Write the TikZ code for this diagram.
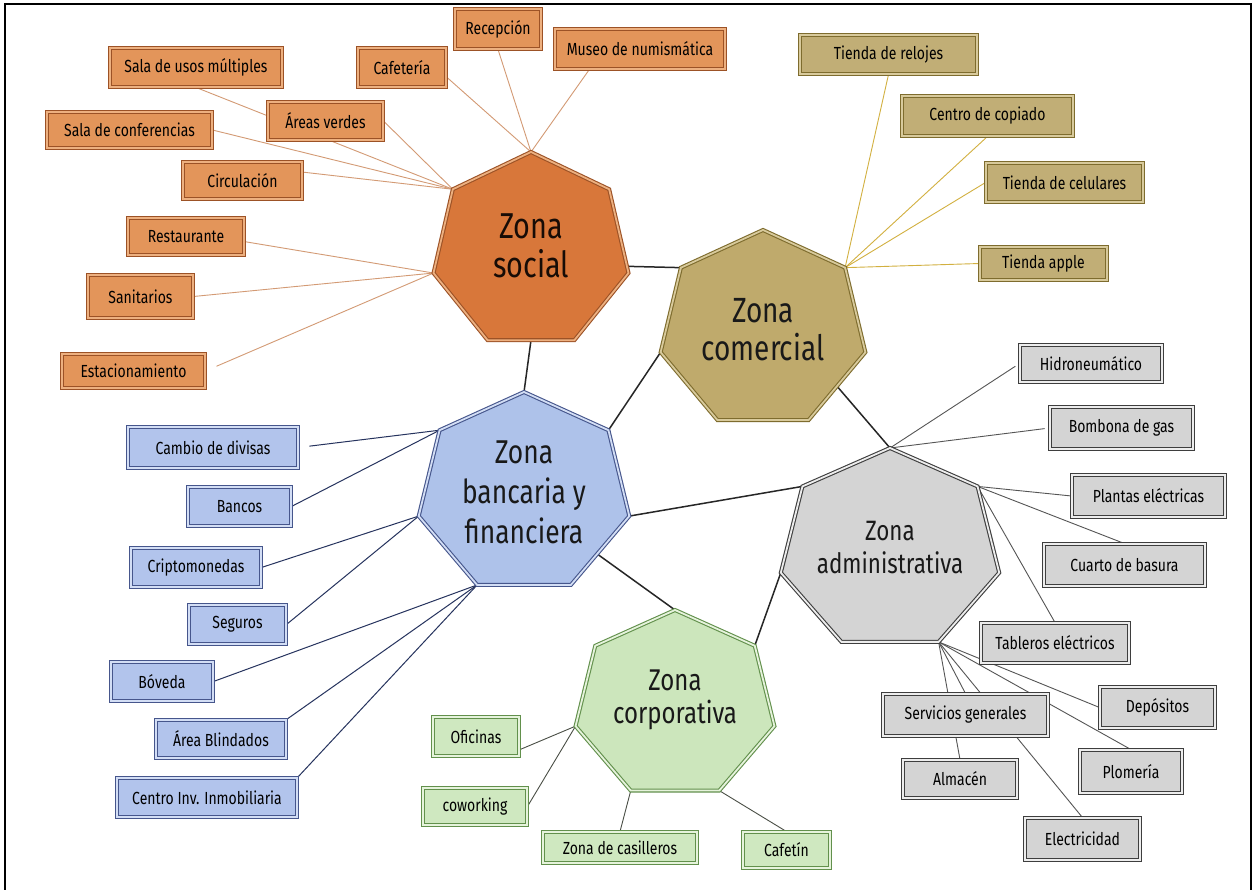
\documentclass[tikz,border=0pt]{standalone}
\usepackage{fontspec}
\setmainfont{Fira Sans}[FakeStretch=0.8]
\usetikzlibrary{calc}
\pgfdeclarelayer{bg}
\pgfsetlayers{bg,main}
\definecolor{sF}{HTML}{E3955A}\definecolor{sH}{HTML}{D8773A}\definecolor{sD}{HTML}{9C5226}\definecolor{sL}{HTML}{EDB080}\definecolor{sLine}{HTML}{D39A74}
\definecolor{cF}{HTML}{C1AE76}\definecolor{cH}{HTML}{BFAA6C}\definecolor{cD}{HTML}{7E6C2E}\definecolor{cL}{HTML}{D8CA9C}\definecolor{cLine}{HTML}{D2B040}
\definecolor{bF}{HTML}{B2C4EC}\definecolor{bH}{HTML}{AEC2EA}\definecolor{bD}{HTML}{46568C}\definecolor{bL}{HTML}{D3DEF5}\definecolor{bLine}{HTML}{26335E}
\definecolor{aF}{HTML}{D4D4D4}\definecolor{aH}{HTML}{D4D4D4}\definecolor{aD}{HTML}{3E3E3E}\definecolor{aL}{HTML}{EDEDED}\definecolor{aLine}{HTML}{555555}
\definecolor{kF}{HTML}{CFE8C0}\definecolor{kH}{HTML}{CCE6BC}\definecolor{kD}{HTML}{62904C}\definecolor{kL}{HTML}{E6F3DC}\definecolor{kLine}{HTML}{4A4F46}
\tikzset{
  leafbase/.style={rectangle, inner sep=0pt, line width=0.9pt, double distance=1.4pt, font=\fontsize{17.5}{19}\selectfont, text=black},
  sbox/.style={leafbase, draw=sD, double=sL, fill=sF},
  cbox/.style={leafbase, draw=cD, double=cL, fill=cF},
  bbox/.style={leafbase, draw=bD, double=bL, fill=bF},
  abox/.style={leafbase, draw=aD, double=aL, fill=aF},
  kbox/.style={leafbase, draw=kD, double=kL, fill=kF},
  hept/.style n args={3}{draw=#1, double=#2, fill=#3, line width=1.1pt, double distance=1.8pt, line join=miter},
  zlabel/.style={align=center, inner sep=0pt, text=black!90},
  sln/.style={draw=sLine, line width=0.9pt},
  cln/.style={draw=cLine, line width=0.9pt},
  bln/.style={draw=bLine, line width=1pt},
  aln/.style={draw=aLine, line width=0.9pt},
  kln/.style={draw=kLine, line width=0.9pt},
  main/.style={draw=black!85, line width=1.5pt},
}
\newcommand{\myhept}[6]{%
  \foreach \i in {1,...,7}{%
    \coordinate (#1-\i) at ({#2+#4*cos(90-(\i-1)*360/7)},{#3-#5*sin(90-(\i-1)*360/7)});
  }
  \path[#6] (#1-1)--(#1-2)--(#1-3)--(#1-4)--(#1-5)--(#1-6)--(#1-7)--cycle;
}
\begin{document}
\begin{tikzpicture}[x=1pt,y=-1pt]
\useasboundingbox (0,0) rectangle (1255,890);
\begin{pgfonlayer}{bg}
\fill[white] (0,0) rectangle (1255,890);
\end{pgfonlayer}
\draw[line width=1.6pt, black] (5,892) -- (5,4) -- (1251,4) -- (1251,892);

% heptagons
\myhept{S}{531}{251}{100}{99}{hept={sD}{sL}{sH}}
\myhept{C}{763}{330}{105}{100}{hept={cD}{cL}{cH}}
\myhept{B}{524}{493.5}{108}{101.5}{hept={bD}{bL}{bH}}
\myhept{A}{890}{550}{112}{102}{hept={aD}{aL}{aH}}
\myhept{K}{675}{705}{102}{95}{hept={kD}{kL}{kH}}
\coordinate (Sr) at ($(S-2)!0.92!(S-3)$);

\node[zlabel, font=\fontsize{36}{39}\selectfont, text={black!85!sD}] (St) at (531,246) {Zona\\social};
\node[zlabel, font=\fontsize{35}{38}\selectfont] (Ct) at (763,330) {Zona\\comercial};
\node[zlabel, font=\fontsize{33}{40}\selectfont] (Bt) at (524,492) {Zona\\bancaria y\\financiera};
\node[zlabel, font=\fontsize{28}{33}\selectfont] (At) at (890,548) {Zona\\administrativa};
\node[zlabel, font=\fontsize{30}{33}\selectfont] (Kt) at (675,700) {Zona\\corporativa};

% social boxes
\node[sbox, minimum width=172pt, minimum height=39pt] (smu) at (196,67.5) {Sala de usos múltiples};
\node[sbox, minimum width=115pt, minimum height=38pt] (ave) at (325.5,121) {Áreas verdes};
\node[sbox, minimum width=165pt, minimum height=36pt] (sco) at (129.5,130) {Sala de conferencias};
\node[sbox, minimum width=119pt, minimum height=37pt] (cir) at (242.5,180.5) {Circulación};
\node[sbox, minimum width=116pt, minimum height=37pt] (res) at (186,236.5) {Restaurante};
\node[sbox, minimum width=105pt, minimum height=43pt] (san) at (140.5,296.5) {Sanitarios};
\node[sbox, minimum width=143pt, minimum height=34pt] (est) at (133.5,371) {Estacionamiento};
\node[sbox, minimum width=88pt, minimum height=39pt] (caf) at (402,67.5) {Cafetería};
\node[sbox, minimum width=86pt, minimum height=40pt] (rec) at (498,29) {Recepción};
\node[sbox, minimum width=170pt, minimum height=40pt] (mus) at (640,49) {Museo de numismática};

% comercial boxes
\node[cbox, minimum width=177pt, minimum height=39pt] (trl) at (888.5,54.5) {Tienda de relojes};
\node[cbox, minimum width=171pt, minimum height=40pt] (ccp) at (987.5,116) {Centro de copiado};
\node[cbox, minimum width=157pt, minimum height=39pt] (tcl) at (1064.5,182.5) {Tienda de celulares};
\node[cbox, minimum width=127pt, minimum height=33pt] (tap) at (1043.5,263.5) {Tienda apple};

% bancaria boxes
\node[bbox, minimum width=170pt, minimum height=41pt] (cdd) at (213,447.5) {Cambio de divisas};
\node[bbox, minimum width=103pt, minimum height=39pt] (ban) at (239.5,506.5) {Bancos};
\node[bbox, minimum width=130pt, minimum height=39pt] (cri) at (196,567.5) {Criptomonedas};
\node[bbox, minimum width=97pt, minimum height=39pt] (seg) at (237.5,624.5) {Seguros};
\node[bbox, minimum width=102pt, minimum height=39pt] (bov) at (162,681.5) {Bóveda};
\node[bbox, minimum width=130pt, minimum height=38pt] (abl) at (221,739) {Área Blindados};
\node[bbox, minimum width=180pt, minimum height=39pt] (cii) at (207,797.5) {Centro Inv. Inmobiliaria};

% administrativa boxes
\node[abox, minimum width=142pt, minimum height=37pt] (hid) at (1091,363.5) {Hidroneumático};
\node[abox, minimum width=143pt, minimum height=42pt] (bom) at (1121.5,428) {Bombona de gas};
\node[abox, minimum width=153pt, minimum height=42pt] (pla) at (1148.5,496) {Plantas eléctricas};
\node[abox, minimum width=161pt, minimum height=42pt] (cub) at (1124.5,565) {Cuarto de basura};
\node[abox, minimum width=148pt, minimum height=40pt] (tab) at (1055,643) {Tableros eléctricos};
\node[abox, minimum width=165pt, minimum height=42pt] (ser) at (965.5,715) {Servicios generales};
\node[abox, minimum width=114pt, minimum height=38pt] (alm) at (960,779) {Almacén};
\node[abox, minimum width=115pt, minimum height=42pt] (ele) at (1082.5,839) {Electricidad};
\node[abox, minimum width=102pt, minimum height=43pt] (plo) at (1131,771.5) {Plomería};
\node[abox, minimum width=115pt, minimum height=41pt] (dep) at (1157.5,707.5) {Depósitos};

% corporativa boxes
\node[kbox, minimum width=86pt, minimum height=39pt] (ofi) at (476,736.5) {Oficinas};
\node[kbox, minimum width=104pt, minimum height=37pt] (cow) at (475,806.5) {coworking};
\node[kbox, minimum width=154pt, minimum height=31pt] (zca) at (620,847.5) {Zona de casilleros};
\node[kbox, minimum width=87pt, minimum height=36pt] (cft) at (786.5,850) {Cafetín};

\begin{pgfonlayer}{bg}
% social leaves
\draw[sln] (smu.south) -- (S-7);
\draw[sln] (ave.east) -- (S-7);
\draw[sln] (sco.east) -- (S-7);
\draw[sln] (cir.8) -- (S-7);
\draw[sln] (res.-5) -- (S-6);
\draw[sln] (san.east) -- (S-6);
\draw[sln, shorten <=12pt] (est.east) -- (S-6);
\draw[sln] (caf.-12) -- (S-1);
\draw[sln] (rec.south) -- (S-1);
\draw[sln] (mus.202) -- (S-1);
% comercial leaves
\draw[cln] (trl.south) -- (C-2);
\draw[cln] (ccp.south) -- (C-2);
\draw[cln] (tcl.west) -- (C-2);
\draw[cln] (tap.west) -- (C-2);
% bancaria leaves
\draw[bln, shorten <=11pt] (cdd.east) -- (B-7);
\draw[bln] (ban.east) -- (B-7);
\draw[bln] (cri.east) -- (B-6);
\draw[bln] (seg.east) -- (B-6);
\draw[bln] (bov.east) -- (B-5);
\draw[bln] (abl.north east) -- (B-5);
\draw[bln] (cii.north east) -- (B-5);
% administrativa leaves
\draw[aln, shorten <=5pt] (hid.west) -- (A-1);
\draw[aln, shorten <=5pt] (bom.west) -- (A-1);
\draw[aln] (pla.west) -- (A-2);
\draw[aln] (cub.north) -- (A-2);
\draw[aln] (tab.north) -- (A-2);
\draw[aln] (ser.north) -- (A-4);
\draw[aln] (alm.north) -- (A-4);
\draw[aln] (ele.north) -- (A-4);
\draw[aln] (plo.north) -- (A-4);
\draw[aln] (dep.west) -- (A-4);
% corporativa leaves
\draw[kln] (ofi.-17) -- (K-6);
\draw[kln] (cow.east) -- (K-6);
\draw[kln] (zca.north) -- (K-5);
\draw[kln] (cft.north) -- (K-4);
% main connectors
\draw[main] (Sr) -- (C-7);
\draw[main] ($(S-4)!0.5!(S-5)$) -- (B-1);
\draw[main] (B-2) -- (C-6);
\draw[main] (B-3) -- (A-7);
\draw[main] ($(B-3)!0.55!(B-4)$) -- (K-1);
\draw[main] (K-2) -- (A-6);
\draw[main] ($(C-3)!0.5!(C-4)$) -- (A-1);
\end{pgfonlayer}
\end{tikzpicture}
\end{document}
